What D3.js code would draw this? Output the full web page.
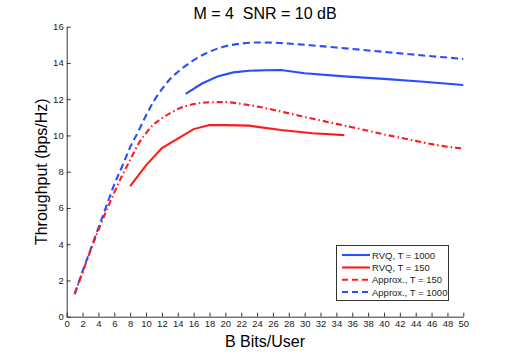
<!DOCTYPE html>
<html><head><meta charset="utf-8">
<script src="https://cdn.jsdelivr.net/npm/d3@7"></script>
<style>
html,body{margin:0;padding:0;background:#fff;}
svg{display:block;font-family:"Liberation Sans",Arial,Helvetica,sans-serif;}
</style></head>
<body>
<script>
// ---- data ----
const title = "M = 4  SNR = 10 dB";
const xLabel = "B Bits/User";
const yLabel = "Throughput (bps/Hz)";
const xTicks = d3.range(0, 51, 2);
const yTicks = [0, 2, 4, 6, 8, 10, 12, 14, 16];

const rvq1000B = [15, 17, 19, 21, 23, 25, 27, 30, 35, 40, 45, 50];
const rvq1000V = [12.29, 12.85, 13.25, 13.48, 13.57, 13.6, 13.61, 13.43, 13.26, 13.12, 12.96, 12.78];

const rvq150B = [8, 10, 12, 16, 18, 20, 23, 27, 31, 35];
const rvq150V = [7.2, 8.35, 9.3, 10.35, 10.58, 10.57, 10.54, 10.3, 10.12, 10.02];

const approx150B = [1, 2, 3, 4, 5, 6, 7, 8, 9, 10, 11, 12, 13, 14, 15, 16, 18, 20, 22, 24, 26, 28, 30, 32, 34, 36, 38, 40, 42, 44, 46, 48, 50];
const approx150V = [1.25, 2.45, 3.65, 4.78, 5.85, 6.85, 7.8, 8.65, 9.5, 10.13, 10.62, 10.95, 11.22, 11.45, 11.62, 11.73, 11.83, 11.84, 11.74, 11.6, 11.42, 11.22, 11.02, 10.83, 10.64, 10.45, 10.26, 10.06, 9.88, 9.7, 9.52, 9.38, 9.27];

const approx1000B = [1, 2, 3, 4, 5, 6, 7, 8, 9, 10, 11, 12, 13, 14, 16, 18, 20, 22, 24, 26, 28, 30, 32, 34, 36, 38, 40, 42, 44, 46, 48, 50];
const approx1000V = [1.25, 2.5, 3.7, 4.9, 6.1, 7.3, 8.3, 9.35, 10.2, 11.1, 11.9, 12.55, 13.1, 13.5, 14.15, 14.62, 14.92, 15.07, 15.13, 15.12, 15.07, 15.0, 14.93, 14.85, 14.77, 14.69, 14.61, 14.53, 14.45, 14.37, 14.3, 14.22];

const seriesNames = ["RVQ, T = 1000", "RVQ, T = 150", "Approx., T = 150", "Approx., T = 1000"];

// ---- layout ----
const W = 512, H = 357;
const m = {left: 66.7, right: 512 - 463.3, top: 26.7, bottom: 357 - 316.7};
const blue = "#2a4dff", red = "#ff1a1a";

const svg = d3.select("body").append("svg").attr("width", W).attr("height", H);
const x = d3.scaleLinear().domain([0, 50]).range([m.left, W - m.right]);
const y = d3.scaleLinear().domain([0, 16]).range([H - m.bottom, m.top]);

// axes (ticks inward)
const gx = svg.append("g").attr("transform", `translate(0,${y(0)})`)
  .call(d3.axisBottom(x).tickValues(xTicks).tickSize(-4).tickPadding(4).tickSizeOuter(0));
const gy = svg.append("g").attr("transform", `translate(${x(0)},0)`)
  .call(d3.axisLeft(y).tickValues(yTicks).tickSize(-4).tickPadding(3).tickSizeOuter(0));
[gx, gy].forEach(g => {
  g.select(".domain").attr("stroke", "#333").attr("stroke-width", 1);
  g.selectAll(".tick line").attr("stroke", "#333");
  g.selectAll(".tick text").attr("fill", "#222").style("font-size", "9.5px").style("font-family", "Liberation Sans, Arial, sans-serif");
});

const zip = (bs, vs) => bs.map((b, i) => [b, vs[i]]);
const linLine = d3.line().x(d => x(d[0])).y(d => y(d[1]));
const smoothLine = d3.line().x(d => x(d[0])).y(d => y(d[1])).curve(d3.curveMonotoneX);

const series = [
  {data: zip(rvq1000B, rvq1000V), color: blue, dash: null, gen: linLine, legendDash: null},
  {data: zip(rvq150B, rvq150V), color: red, dash: null, gen: linLine, legendDash: null},
  {data: zip(approx150B, approx150V), color: red, dash: "6,3,1.5,3", gen: smoothLine, legendDash: "6,4"},
  {data: zip(approx1000B, approx1000V), color: blue, dash: "7,4", gen: smoothLine, legendDash: "6,4"}
];

series.slice().reverse().forEach(s => {
  svg.append("path").attr("d", s.gen(s.data)).attr("fill", "none")
    .attr("stroke", s.color).attr("stroke-width", 2.1)
    .attr("stroke-dasharray", s.dash);
});

// title and labels
svg.append("text").attr("x", (x(0) + x(50)) / 2).attr("y", 19).attr("text-anchor", "middle")
  .style("font-size", "16px").style("white-space", "pre").attr("xml:space", "preserve")
  .attr("fill", "#000").text(title);
svg.append("text").attr("x", (x(0) + x(50)) / 2).attr("y", 347).attr("text-anchor", "middle")
  .style("font-size", "16px").attr("fill", "#000").text(xLabel);
svg.append("text").attr("transform", `translate(47,${(y(0) + y(16)) / 2}) rotate(-90)`)
  .attr("text-anchor", "middle").style("font-size", "16px").attr("fill", "#000").text(yLabel);

// legend
const lg = svg.append("g");
lg.append("rect").attr("x", 336.5).attr("y", 245.5).attr("width", 112).attr("height", 55)
  .attr("fill", "#fff").attr("stroke", "#333").attr("stroke-width", 1);
const rowsY = [255, 267.5, 279.8, 292];
series.forEach((s, i) => {
  lg.append("line").attr("x1", 342).attr("x2", 370).attr("y1", rowsY[i]).attr("y2", rowsY[i])
    .attr("stroke", s.color).attr("stroke-width", 2.1).attr("stroke-dasharray", s.legendDash);
  lg.append("text").attr("x", 372).attr("y", rowsY[i] + 3.5).style("font-size", "9.5px")
    .attr("fill", "#222").text(seriesNames[i]);
});
</script>
</body></html>
